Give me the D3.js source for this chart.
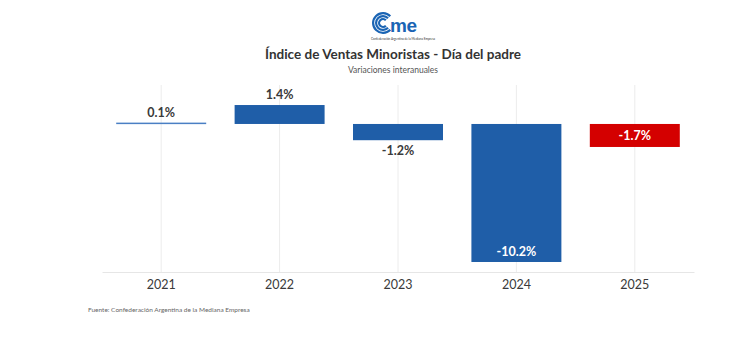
<!DOCTYPE html>
<html><head><meta charset="utf-8">
<script src="https://cdn.jsdelivr.net/npm/d3@7/dist/d3.min.js"></script>
<style>body{margin:0;background:#fff}svg{display:block}</style>
</head><body>
<svg id="c" width="730" height="343"></svg>
<script>
const categories = ["2021","2022","2023","2024","2025"];
const values = [0.1, 1.4, -1.2, -10.2, -1.7];
const labels = ["0.1%","1.4%","-1.2%","-10.2%","-1.7%"];
const barColors = ["#4a7fc4","#1f5ea8","#1f5ea8","#1f5ea8","#d40000"];

const svg = d3.select("#c");
const font = "Lato, 'Open Sans', sans-serif";

const x = d3.scaleBand().domain(categories).range([102, 694]).paddingInner(0.24).paddingOuter(0.12);
const y = d3.scaleLinear().domain([-10.94, 2.88]).range([272, 85]);

// vertical grid lines
svg.append("g").selectAll("line").data(categories).join("line")
  .attr("x1", d => x(d) + x.bandwidth()/2).attr("x2", d => x(d) + x.bandwidth()/2)
  .attr("y1", y.range()[1]).attr("y2", y.range()[0])
  .attr("stroke", "#ececec").attr("stroke-width", 1);

// baseline axis
const xAxis = svg.append("g").attr("transform", `translate(0,${y.range()[0]})`)
  .call(d3.axisBottom(x).tickSize(0).tickPadding(8));
xAxis.select(".domain").attr("stroke", "#e6e6e6");
xAxis.selectAll("text").attr("font-family", font).attr("font-size", 12.5).attr("fill", "#3a3a3a");

// bars
svg.append("g").selectAll("rect").data(values).join("rect")
  .attr("x", (d,i) => x(categories[i]))
  .attr("width", x.bandwidth())
  .attr("y", d => y(Math.max(0, d)))
  .attr("height", d => Math.max(1.5, Math.abs(y(d) - y(0))))
  .attr("fill", (d,i) => barColors[i]);

// value labels
const lab = svg.append("g").selectAll("text").data(values).join("text")
  .attr("x", (d,i) => x(categories[i]) + x.bandwidth()/2)
  .attr("text-anchor", "middle")
  .attr("font-family", font).attr("font-weight", "bold").attr("font-size", 12.5)
  .text((d,i) => labels[i]);
lab.each(function(d,i){
  const t = d3.select(this);
  if (i === 3) {
    t.attr("y", y(d) - 6).attr("fill", "#fff");
  } else if (i === 4) {
    t.attr("y", (y(0)+y(d))/2 + 4.5).attr("fill", "#fff");
  } else if (d >= 0) {
    t.attr("y", y(d) - 6).attr("fill", "#3a3a3a");
  } else {
    t.attr("y", y(d) + 15).attr("fill", "#3a3a3a");
  }
});

// title & subtitle
svg.append("text").attr("x", 393).attr("y", 59).attr("text-anchor", "middle")
  .attr("font-family", font).attr("font-weight", "bold").attr("font-size", 13.5).attr("fill", "#333")
  .text("Índice de Ventas Minoristas - Día del padre");
svg.append("text").attr("x", 393).attr("y", 73).attr("text-anchor", "middle")
  .attr("font-family", font).attr("font-size", 8.5).attr("fill", "#555")
  .text("Variaciones interanuales");

// logo
const logo = svg.append("g");
const lc = "#1a64b4";
[11, 8, 5].forEach((r) => {
  const arc = d3.arc().innerRadius(r - 2.2).outerRadius(r)
    .startAngle(Math.PI/2 + 0.75).endAngle(Math.PI/2 + 2*Math.PI - 0.75);
  logo.append("path").attr("d", arc()).attr("transform", "translate(383,23)").attr("fill", lc);
});
logo.append("text").attr("x", 390).attr("y", 32).attr("font-family", "Arial, sans-serif")
  .attr("font-weight", "bold").attr("font-size", 19).attr("fill", lc).attr("letter-spacing", -0.5).text("me");
logo.append("text").attr("x", 403).attr("y", 40).attr("text-anchor", "middle")
  .attr("font-family", font).attr("font-size", 3).attr("fill", "#333")
  .text("Confederación Argentina de la Mediana Empresa");

// footer
svg.append("text").attr("x", 88).attr("y", 312)
  .attr("font-family", font).attr("font-size", 6.5).attr("fill", "#666")
  .text("Fuente: Confederación Argentina de la Mediana Empresa");
</script>
</body></html>
